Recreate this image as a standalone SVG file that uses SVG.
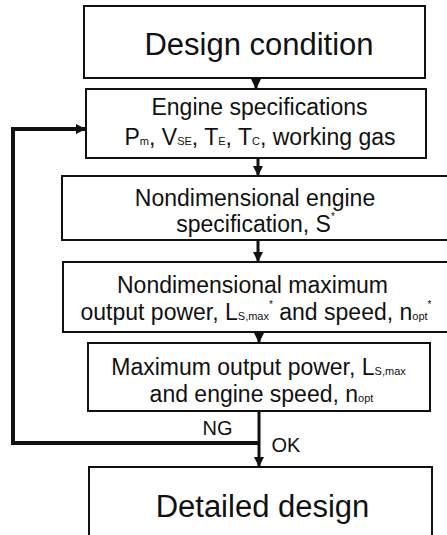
<svg xmlns="http://www.w3.org/2000/svg" width="447" height="535" viewBox="0 0 447 535">
<style>
.box{fill:#fff;stroke:#111;stroke-width:2}
.t{font-family:"Liberation Sans",Arial,sans-serif;fill:#111;text-anchor:middle}
.big{font-size:31px}
.mid{font-size:23px}
.lbl{font-size:20px}
.sub{font-size:11px}
.sup{font-size:10px}
.con{stroke:#111;stroke-width:3;fill:none}
.fb{stroke:#111;stroke-width:4;fill:none}
</style>
<defs>
<marker id="ah" markerUnits="userSpaceOnUse" viewBox="0 0 10 10" markerWidth="10" markerHeight="12" refX="10" refY="5" orient="auto">
<path d="M0,0 L10,5 L0,10 z" fill="#111"/>
</marker>
</defs>
<g id="n1">
<rect class="box" x="84" y="6" width="341" height="72"/>
<text class="t big" x="259" y="55">Design condition</text>
</g>
<g id="n2">
<rect class="box" x="86" y="89" width="340" height="69"/>
<text class="t mid" x="259.5" y="115">Engine specifications</text>
<text class="t mid" x="260" y="145">P<tspan class="sub">m</tspan>, V<tspan class="sub">SE</tspan>, T<tspan class="sub">E</tspan>, T<tspan class="sub">C</tspan>, working gas</text>
</g>
<g id="n3">
<rect class="box" x="62" y="176" width="390" height="64"/>
<text class="t mid" x="255" y="206">Nondimensional engine</text>
<text class="t mid" x="255.5" y="232">specification, S<tspan class="sup" dy="-12">*</tspan></text>
</g>
<g id="n4">
<rect class="box" x="63" y="262" width="390" height="70"/>
<text class="t mid" x="252.5" y="293">Nondimensional maximum</text>
<text class="t mid" x="256" y="320">output power, L<tspan class="sub">S,max</tspan><tspan class="sup" dy="-12">*</tspan><tspan dy="12"> and speed, n</tspan><tspan class="sub">opt</tspan><tspan class="sup" dy="-12">*</tspan></text>
</g>
<g id="n5">
<rect class="box" x="88" y="343" width="342" height="68"/>
<text class="t mid" x="258.5" y="375">Maximum output power, L<tspan class="sub">S,max</tspan></text>
<text class="t mid" x="261.5" y="402">and engine speed, n<tspan class="sub">opt</tspan></text>
</g>
<g id="n6">
<rect class="box" x="89" y="467" width="343" height="80"/>
<text class="t big" x="262.5" y="517">Detailed design</text>
</g>
<g id="connectors">
<line class="con" x1="256" y1="78" x2="256" y2="89" marker-end="url(#ah)"/>
<line class="con" x1="258" y1="158" x2="258" y2="176" marker-end="url(#ah)"/>
<line class="con" x1="258" y1="240" x2="258" y2="262" marker-end="url(#ah)"/>
<line class="con" x1="259" y1="332" x2="259" y2="343" marker-end="url(#ah)"/>
<line class="con" x1="259" y1="411" x2="259" y2="467" marker-end="url(#ah)"/>
<polyline class="fb" points="259,443 13,443 13,129 86,129" marker-end="url(#ah)"/>
<text class="t lbl" x="217.5" y="435">NG</text>
<text class="t lbl" x="286" y="452">OK</text>
</g>
</svg>
